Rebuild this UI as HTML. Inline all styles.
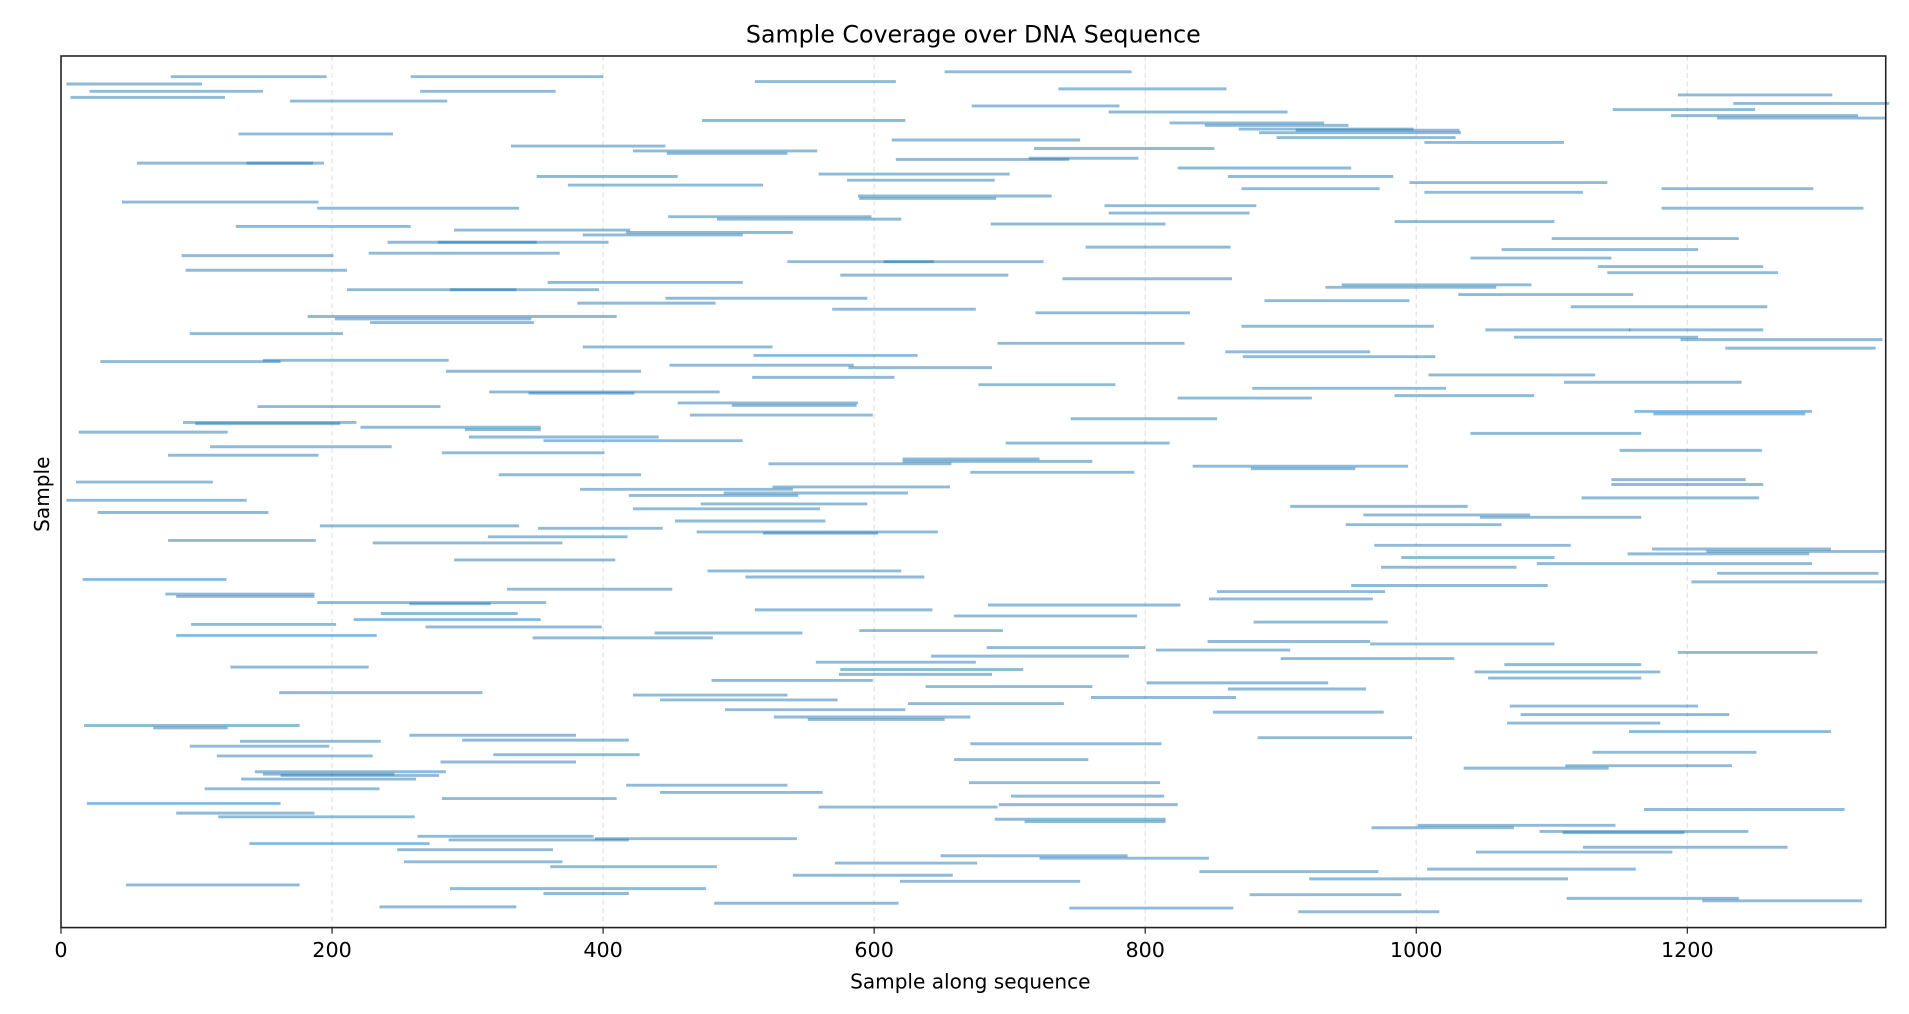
<!DOCTYPE html>
<html><head><meta charset="utf-8"><style>
html,body{margin:0;padding:0;background:#fff;}
svg{display:block;}
text{font-family:"DejaVu Sans","Liberation Sans",sans-serif;fill:#000;}
</style></head><body>
<svg id="chart" width="1909" height="1014" viewBox="0 0 1568 833" xmlns="http://www.w3.org/2000/svg">
<text x="799.5" y="35" font-size="19.5" text-anchor="middle">Sample Coverage over DNA Sequence</text>
<g id="grid"></g>
<g id="marks"></g>
<rect x="50" y="46" width="1499" height="716" fill="none" stroke="#222" stroke-width="1.3"/>
<g id="xticks"></g>
<text x="797" y="812" font-size="16.5" text-anchor="middle">Sample along sequence</text>
<text x="0" y="0" font-size="16.5" text-anchor="middle" transform="translate(40,406) rotate(-90)">Sample</text>
</svg>
<script>
const xTicks=[0,200,400,600,800,1000,1200];
const xTickLabels=["0","200","400","600","800","1000","1200"];
const starts=[652,81,258,512,4,736,21,265,1193,7,169,1234,672,1145,773,1188,1222,473,818,844,869,911,884,131,897,613,1006,332,718,422,447,714,616,56,137,824,559,351,861,580,995,374,871,1181,1006,588,589,45,770,189,1181,773,448,484,984,686,129,290,417,385,1100,241,278,756,1063,227,89,1040,536,607,1134,92,1141,575,739,359,945,933,211,287,1031,446,888,381,1114,569,719,182,202,228,871,1051,1157,95,1072,1195,691,385,1228,859,511,872,29,149,449,581,284,1009,510,1109,677,879,316,345,984,824,455,495,145,1161,1175,464,745,90,99,221,298,13,1040,301,356,697,110,1150,281,79,621,621,522,835,878,671,323,1144,11,1144,525,383,489,419,1122,4,472,907,422,27,961,1047,453,948,191,352,469,518,315,79,230,969,1174,1214,1156,989,290,1089,974,477,1222,505,16,1203,952,329,853,77,85,847,189,257,684,512,236,659,216,880,96,269,589,438,85,348,846,966,683,808,1193,642,900,557,1065,125,575,1043,574,1053,480,801,638,861,161,422,760,442,625,1069,490,850,1077,526,551,1067,17,68,1157,257,883,296,132,671,95,1130,319,115,659,280,1110,1035,143,149,162,133,670,417,106,442,701,281,19,692,559,1168,85,116,689,711,1001,967,1091,1108,263,394,286,139,1123,248,1044,649,722,253,571,361,1008,840,540,921,619,48,287,356,877,1111,1211,482,235,744,913];
const ends=[790,196,400,616,104,860,149,365,1307,121,285,1349,781,1250,905,1326,1346,623,932,950,998,1032,1033,245,1029,752,1109,446,851,558,536,795,744,186,194,952,700,455,983,689,1141,518,973,1293,1123,731,690,190,882,338,1330,877,598,620,1102,815,258,420,540,503,1238,404,351,863,1208,368,201,1144,725,644,1256,211,1267,699,864,503,1085,1059,397,336,1160,595,995,483,1259,675,833,410,347,349,1013,1158,1256,208,1208,1344,829,525,1339,966,632,1014,162,286,585,687,428,1132,615,1240,778,1022,486,423,1087,923,588,587,280,1292,1287,599,853,218,206,354,354,123,1166,441,503,818,244,1255,401,190,722,761,657,994,955,792,428,1243,112,1256,656,540,625,544,1253,137,595,1038,560,153,1084,1166,564,1063,338,444,647,603,418,188,370,1114,1306,1347,1290,1102,409,1292,1074,620,1341,637,122,1346,1097,451,977,187,187,968,358,317,826,643,337,794,354,979,203,399,695,547,233,481,966,1102,800,907,1296,788,1028,675,1166,227,710,1180,687,1166,599,935,761,963,311,536,867,573,740,1208,623,976,1231,671,652,1180,176,123,1306,380,997,419,236,812,198,1251,427,230,758,380,1233,1142,284,246,279,262,811,536,235,562,814,410,162,824,691,1316,187,261,815,815,1147,1072,1245,1198,393,543,419,272,1274,363,1189,787,847,370,676,484,1162,972,658,1112,752,176,476,419,989,1238,1329,618,336,865,1017];
const rows=[703,699,699,695,693,689,687,687,684,682,679,677,675,672,670,667,665,663,661,659,656,655,653,652,649,647,645,642,640,638,636,632,631,628,628,624,619,617,617,614,612,610,607,607,604,601,599,596,593,591,591,587,584,582,580,578,576,573,571,569,566,563,563,559,557,554,552,550,547,547,543,540,538,536,533,530,528,526,524,524,520,517,515,513,510,508,505,502,500,497,494,491,491,488,485,483,480,477,476,473,470,469,465,466,462,460,457,454,452,448,446,443,440,439,437,435,431,429,428,424,422,421,418,415,414,411,409,407,406,403,400,398,395,392,390,388,385,383,381,379,377,374,372,368,366,364,362,360,357,355,353,351,348,346,344,341,339,337,334,331,330,328,325,324,321,318,316,314,311,309,307,304,302,299,296,293,291,288,286,284,281,278,276,274,272,270,267,266,265,261,258,256,253,251,249,247,244,242,240,238,235,233,230,228,226,223,221,218,216,214,212,210,208,205,203,201,198,196,193,191,189,187,184,182,179,177,175,173,171,168,166,164,161,158,156,154,153,151,149,144,142,141,138,136,133,131,128,126,125,122,119,117,114,111,108,106,102,101,99,97,94,91,89,87,84,82,79,78,75,73,72,69,66,64,62,59,57,54,53,50,48,46,43,40,38,35,32,28,27,24,22,20,17,16,13,11];

const X0=50,X1=1549,Y0=46,Y1=762;
const xScale=v=>X0+v*(1336/1200);
const yScale=v=>Y1-v;
const NS="http://www.w3.org/2000/svg";
const grid=document.getElementById('grid'),marks=document.getElementById('marks'),xt=document.getElementById('xticks');
xTicks.forEach((t,i)=>{
  const x=xScale(t);
  if(i>0){
    const g=document.createElementNS(NS,'line');
    
    
    g.setAttribute('x1',x);g.setAttribute('x2',x);g.setAttribute('y1',Y0);g.setAttribute('y2',Y1);
    g.setAttribute('stroke','#e3e3e3');g.setAttribute('stroke-width','1');g.setAttribute('stroke-dasharray','4,3');
    grid.appendChild(g);
  }
  const tk=document.createElementNS(NS,'line');
  
  
  tk.setAttribute('x1',x);tk.setAttribute('x2',x);tk.setAttribute('y1',Y1);tk.setAttribute('y2',Y1+5);
  tk.setAttribute('stroke','#222');tk.setAttribute('stroke-width','1');
  xt.appendChild(tk);
  const tx=document.createElementNS(NS,'text');
  
  
  tx.setAttribute('x',x);tx.setAttribute('y',Y1+24);tx.setAttribute('font-size','17');tx.setAttribute('text-anchor','middle');
  tx.textContent=xTickLabels[i];
  xt.appendChild(tx);
});
for(let i=0;i<starts.length;i++){
  const l=document.createElementNS(NS,'line');
  
  
  l.setAttribute('x1',xScale(starts[i]));l.setAttribute('x2',xScale(ends[i]));
  l.setAttribute('y1',yScale(rows[i]));l.setAttribute('y2',yScale(rows[i]));
  l.setAttribute('stroke','#1f77b4');l.setAttribute('stroke-opacity','0.5');l.setAttribute('stroke-width','2.4');
  marks.appendChild(l);
}
</script>
</body></html>
